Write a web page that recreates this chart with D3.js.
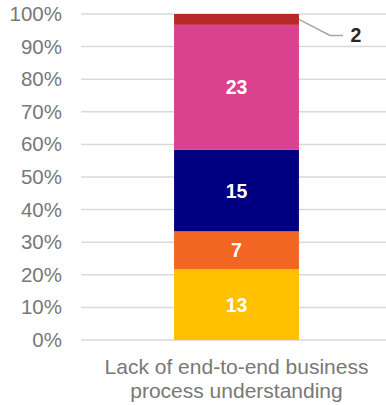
<!DOCTYPE html>
<html>
<head>
<meta charset="utf-8">
<script src="https://cdn.jsdelivr.net/npm/d3@7"></script>
<style>
  html, body { margin: 0; padding: 0; background: #fff; }
  svg { display: block; }
</style>
</head>
<body>
<svg id="chart" width="386" height="405"></svg>
<script>
// Data: one category, five stacked segments shown as share of total
const categories = ["Lack of end-to-end business process understanding"];
const categoryLines = ["Lack of end-to-end business", "process understanding"];
const seriesNames = ["s1", "s2", "s3", "s4", "s5"];
const seriesValues = [13, 7, 15, 23, 2];
const seriesColors = ["#FFC000", "#F26522", "#000080", "#DA418E", "#B92828"];
const labelColors = ["#ffffff", "#ffffff", "#ffffff", "#ffffff", "#262626"];
const tickValues = [0, 0.1, 0.2, 0.3, 0.4, 0.5, 0.6, 0.7, 0.8, 0.9, 1.0];

const svg = d3.select("#chart");
const margin = { left: 81, right: -6, top: 14, bottom: 65 };
const W = 386, H = 405;

const total = d3.sum(seriesValues);
const row = { category: categories[0] };
seriesNames.forEach((k, i) => row[k] = seriesValues[i] / total);
const stacked = d3.stack().keys(seriesNames)([row]);

const y = d3.scaleLinear().domain([0, 1]).range([H - margin.bottom, margin.top]);
const x = d3.scaleBand().domain(categories)
  .range([margin.left, W - margin.right]).paddingInner(0.427).paddingOuter(0.427);

// Gridlines
svg.append("g").selectAll("line").data(tickValues).join("line")
  .attr("x1", margin.left).attr("x2", W)
  .attr("y1", d => y(d)).attr("y2", d => y(d))
  .attr("stroke", "#d9d9d9").attr("stroke-width", 1.5);

// Y axis labels
const yAxis = d3.axisLeft(y).tickValues(tickValues).tickFormat(d3.format(".0%")).tickSize(0).tickPadding(0);
const gy = svg.append("g").attr("transform", `translate(62,0)`).call(yAxis);
gy.select(".domain").remove();
gy.selectAll("text")
  .attr("fill", "#787878")
  .style("font-family", "'Liberation Sans', Arial, sans-serif")
  .style("font-size", "20.5px");

// Bars
svg.append("g").selectAll("rect").data(stacked).join("rect")
  .attr("x", x(categories[0]))
  .attr("width", x.bandwidth())
  .attr("y", d => y(d[0][1]))
  .attr("height", d => y(d[0][0]) - y(d[0][1]))
  .attr("fill", (d, i) => seriesColors[i]);

// Value labels
const bx = x(categories[0]) + x.bandwidth() / 2;
stacked.forEach((s, i) => {
  const mid = (s[0][0] + s[0][1]) / 2;
  const v = seriesValues[i];
  if (i < stacked.length - 1) {
    svg.append("text")
      .attr("x", bx).attr("y", y(mid))
      .attr("text-anchor", "middle").attr("dominant-baseline", "central")
      .attr("fill", labelColors[i])
      .style("font-family", "'Liberation Sans', Arial, sans-serif")
      .style("font-weight", "bold").style("font-size", "19.5px")
      .text(v);
  } else {
    // Small top segment: label outside with a leader line
    const x0 = x(categories[0]) + x.bandwidth();
    const y0 = y(mid);
    svg.append("polyline")
      .attr("points", `${x0},${y0} ${x0 + 31},${y0 + 16} ${x0 + 44},${y0 + 16}`)
      .attr("fill", "none").attr("stroke", "#a6a6a6").attr("stroke-width", 1.5);
    svg.append("text")
      .attr("x", x0 + 57).attr("y", y0 + 16)
      .attr("text-anchor", "middle").attr("dominant-baseline", "central")
      .attr("fill", labelColors[i])
      .style("font-family", "'Liberation Sans', Arial, sans-serif")
      .style("font-weight", "bold").style("font-size", "19.5px")
      .text(v);
  }
});

// Category label
const cat = svg.append("text")
  .attr("x", bx).attr("y", 374)
  .attr("text-anchor", "middle")
  .attr("fill", "#787878")
  .style("font-family", "'Liberation Sans', Arial, sans-serif")
  .style("font-size", "21px");
categoryLines.forEach((t, i) => {
  cat.append("tspan").attr("x", bx).attr("dy", i === 0 ? 0 : 24).text(t);
});
</script>
</body>
</html>
